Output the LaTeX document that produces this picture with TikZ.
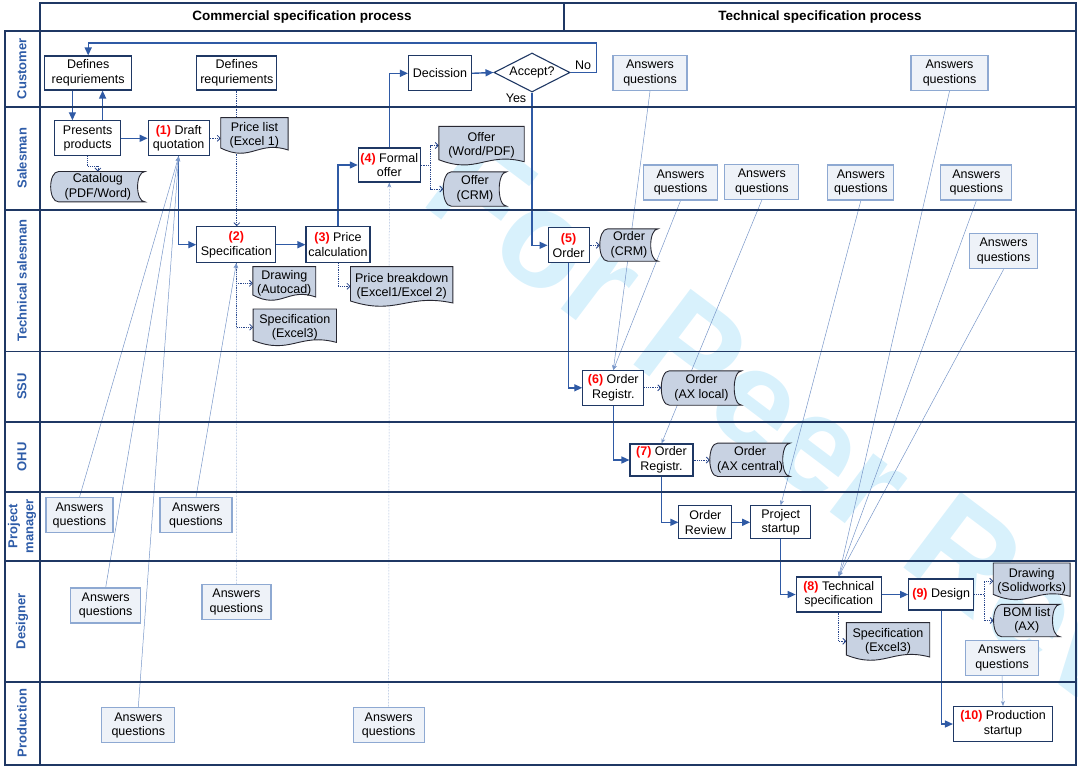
\documentclass[tikz,border=0pt]{standalone}
\usepackage{fontspec}
\setmainfont{Liberation Sans}
\usetikzlibrary{arrows.meta,shapes.geometric}
\definecolor{laneline}{RGB}{31,56,100}
\definecolor{lanetext}{RGB}{46,92,168}
\definecolor{flowblue}{RGB}{47,90,165}
\definecolor{boxline}{RGB}{31,56,100}
\definecolor{docfill}{RGB}{200,210,226}
\definecolor{docline}{RGB}{40,40,50}
\definecolor{aqfill}{RGB}{238,242,248}
\definecolor{aqline}{RGB}{142,169,210}
\definecolor{thinblue}{RGB}{120,150,200}
\definecolor{dotblue}{RGB}{40,70,140}

\pgfdeclarelayer{wm}
\pgfdeclarelayer{lines}
\pgfdeclarelayer{shapes}
\pgfsetlayers{wm,lines,shapes,main}

\newcommand{\stepno}[1]{\textcolor{red}{\textbf{#1}}}

\newcommand{\docnode}[6]{%
  \node[doctext, minimum width=#4, minimum height=#5] (#1) at (#2,#3) {#6};
  \begin{pgfonlayer}{shapes}
    \filldraw[docshape] (#1.north west) -- (#1.north east) -- ([yshift=3pt]#1.south east)
      .. controls ([xshift={-0.45*#4},yshift=13pt]#1.south east) and ([xshift={0.45*#4},yshift=-10pt]#1.south west)
      .. ([yshift=5pt]#1.south west) -- cycle;
  \end{pgfonlayer}}

\newcommand{\storenode}[6]{%
  \node[doctext, minimum width=#4, minimum height=#5] (#1) at (#2,#3) {#6};
  \begin{pgfonlayer}{shapes}
    \filldraw[docshape] ([xshift=8pt]#1.north west) -- (#1.north east)
      .. controls ([xshift=-10pt]#1.north east) and ([xshift=-10pt]#1.south east) .. (#1.south east)
      -- ([xshift=8pt]#1.south west)
      .. controls ([xshift=-2.7pt]#1.south west) and ([xshift=-2.7pt]#1.north west) .. ([xshift=8pt]#1.north west) -- cycle;
  \end{pgfonlayer}}

\begin{document}
\begin{tikzpicture}[x=1pt, y=-1pt,
    font=\fontsize{12.5}{14.5}\selectfont,
    lane/.style={draw=laneline, line width=1.8pt},
    lanelabel/.style={rotate=90, text=lanetext, font=\fontsize{13}{16}\selectfont\bfseries, align=center},
    hdr/.style={font=\fontsize{13.5}{16}\selectfont\bfseries},
    proc/.style={draw=boxline, fill=white, line width=1.1pt, align=center, inner sep=1pt},
    aq/.style={draw=aqline, fill=aqfill, line width=1.3pt, align=center, inner sep=1pt, minimum height=35},
    doctext/.style={align=center, inner sep=0pt},
    docshape/.style={draw=docline, fill=docfill, line width=0.9pt},
    flow/.style={draw=flowblue, line width=1.4pt, -{Triangle[length=8pt,width=7pt]}},
    dotarr/.style={draw=dotblue, densely dotted, line width=0.8pt, -{Straight Barb[length=3pt,width=6pt]}},
    ansline/.style={draw=thinblue, line width=0.5pt, -{Stealth[length=5pt,width=4pt]}},
    wmark/.style={text=wmcyan, font=\fontsize{138}{138}\selectfont\bfseries}]

    \xdefinecolor{wmcyan}{RGB}{216,241,252}

    \useasboundingbox (0,0) rectangle (1078,768);

    \begin{pgfonlayer}{wm}
        \node[wmark, rotate=-37] (wmtext) at (877,486) {For Peer Review};
    \end{pgfonlayer}

    \draw[lane] (39.7,3.3) rectangle (1076,30.7);
    \draw[lane] (564,3.3) -- (564,30.7);
    \draw[lane] (5,30.7) rectangle (1076,765);
    \draw[lane] (39.7,30.7) -- (39.7,765);
    \draw[lane] (5,106.7) -- (1076,106.7);
    \draw[lane] (5,210) -- (1076,210);
    \draw[lane] (5,351.5) -- (1076,351.5);
    \draw[lane] (5,421.7) -- (1076,421.7);
    \draw[lane] (5,491.7) -- (1076,491.7);
    \draw[lane] (5,560.7) -- (1076,560.7);
    \draw[lane] (5,681.7) -- (1076,681.7);

    \node[hdr] (hcom) at (302,17) {Commercial specification process};
    \node[hdr] (htec) at (820,17) {Technical specification process};

    \node[lanelabel] (lcust) at (22,68.7) {Customer};
    \node[lanelabel] (lsales) at (22,158.3) {Salesman};
    \node[lanelabel] (ltech) at (22,280.7) {Technical salesman};
    \node[lanelabel] (lssu) at (22,386.6) {SSU};
    \node[lanelabel] (lohu) at (22,456.7) {OHU};
    \node[lanelabel] (lpm) at (22,526.2) {Project\\manager};
    \node[lanelabel] (ldes) at (22,621.2) {Designer};
    \node[lanelabel] (lprod) at (22,723.3) {Production};

    \node[proc, minimum width=87, minimum height=34] (defA) at (88.2,73) {Defines\\requriements};
    \node[proc, minimum width=80, minimum height=34] (defB) at (236.8,73) {Defines\\requriements};
    \node[proc, minimum width=63, minimum height=35] (decis) at (440,73.3) {Decission};
    \node[proc, shape=diamond, aspect=2, inner sep=0pt, minimum width=76, minimum height=39] (acc) at (532,72.5) {Accept?};
    \node (nolbl) at (583,65) {No};
    \node (yeslbl) at (516,98) {Yes};
    \node[aq, minimum width=74] (aqC1) at (650,73) {Answers\\questions};
    \node[aq, minimum width=77] (aqC2) at (949.5,73) {Answers\\questions};

    \node[proc, minimum width=66, minimum height=35] (pres) at (87.6,138.3) {Presents\\products};
    \node[proc, minimum width=61, minimum height=35] (draft) at (178.7,138.3) {\stepno{(1)} Draft\\quotation};
    \docnode{plist}{254.4}{135.3}{67}{35}{Price list\\(Excel 1)}
    \storenode{catalog}{97.9}{186.7}{94}{30}{Cataloug\\(PDF/Word)}
    \node[proc, minimum width=62, minimum height=34] (formal) at (389.3,165) {\stepno{(4)} Formal\\offer};
    \docnode{offerwp}{481.5}{145.5}{85}{38}{Offer\\(Word/PDF)}
    \storenode{offercrm}{475}{189}{63}{34}{Offer\\(CRM)}
    \node[aq, minimum width=74] (aqS1) at (680.5,182.6) {Answers\\questions};
    \node[aq, minimum width=74] (aqS2) at (761.8,182) {Answers\\questions};
    \node[aq, minimum width=66] (aqS3) at (860.8,182.6) {Answers\\questions};
    \node[aq, minimum width=71] (aqS4) at (976.3,182.6) {Answers\\questions};

    \node[proc, minimum width=79, minimum height=36] (spec) at (236.3,244.7) {\stepno{(2)}\\Specification};
    \node[proc, minimum width=64, minimum height=36] (price) at (338,244.7) {\stepno{(3)} Price\\calculation};
    \docnode{drawac}{284.3}{283.3}{62.5}{33}{Drawing\\(Autocad)}
    \docnode{specx3}{294.8}{327.2}{83}{36}{Specification\\(Excel3)}
    \docnode{pbreak}{401.7}{286.3}{102}{39}{Price breakdown\\(Excel1/Excel 2)}
    \node[proc, minimum width=41, minimum height=35] (order5) at (568.6,245.3) {\stepno{(5)}\\Order};
    \storenode{ordercrm}{629}{245}{58}{32}{Order\\(CRM)}
    \node[aq, minimum width=68] (aqT1) at (1003.6,251.2) {Answers\\questions};

    \node[proc, minimum width=61, minimum height=34.5] (reg6) at (613.3,387.8) {\stepno{(6)} Order\\Registr.};
    \storenode{axlocal}{701.5}{388}{80}{34}{Order\\(AX local)}

    \node[proc, minimum width=63, minimum height=32] (reg7) at (661.5,460) {\stepno{(7)} Order\\Registr.};
    \storenode{axcentral}{750}{459.8}{80}{33}{Order\\(AX central)}

    \node[proc, minimum width=53, minimum height=33] (review) at (705.4,522.3) {Order\\Review};
    \node[proc, minimum width=60, minimum height=33] (startup) at (780.7,522.3) {Project\\startup};
    \node[aq, minimum width=67] (aqP1) at (79.5,515.3) {Answers\\questions};
    \node[aq, minimum width=72] (aqP2) at (196,515.3) {Answers\\questions};

    \node[proc, minimum width=85, minimum height=35] (tspec8) at (838.7,594.5) {\stepno{(8)} Technical\\specification};
    \node[proc, minimum width=65, minimum height=31] (design9) at (941.2,594.5) {\stepno{(9)} Design};
    \docnode{drawsw}{1031.7}{581.2}{76.5}{36}{Drawing\\(Solidworks)}
    \storenode{bom}{1026.8}{620.5}{66}{32}{BOM list\\(AX)}
    \docnode{specx3b}{888}{641.3}{83}{37}{Specification\\(Excel3)}
    \node[aq, minimum width=70] (aqD1) at (105.7,605.5) {Answers\\questions};
    \node[aq, minimum width=69] (aqD2) at (236.4,602) {Answers\\questions};
    \node[aq, minimum width=73] (aqD3) at (1002,658) {Answers\\questions};

    \node[proc, minimum width=99, minimum height=35] (prod10) at (1003,724) {\stepno{(10)} Production\\startup};
    \node[aq, minimum width=73] (aqR1) at (138.3,725.3) {Answers\\questions};
    \node[aq, minimum width=71] (aqR2) at (388.7,725.3) {Answers\\questions};

    \coordinate (dnA) at ([xshift=-15.8pt]defA.south);
    \coordinate (upA) at ([xshift=15pt]pres.north);
    \coordinate (noC) at (596.5,43);
    \coordinate (fo) at ([xshift=10pt]formal.east);
    \coordinate (dg) at ([xshift=10pt]design9.east);

    \begin{pgfonlayer}{lines}
        \draw[flow] (dnA) -- (dnA |- pres.north);
        \draw[flow] (upA) -- (upA |- defA.south);
        \draw[flow] (pres.east) -- (draft.west);
        \draw[flow] (draft.south) |- (spec.west);
        \draw[flow] (spec.east) -- (price.west);
        \draw[flow] (price.north) |- (formal.west);
        \draw[flow] (formal.north) |- (decis.west);
        \draw[flow] (decis.east) -- (acc.west);
        \draw[flow] (acc.east) -| (noC) -| (defA.north);
        \draw[flow] (acc.south) |- (order5.west);
        \draw[flow] (order5.south) |- (reg6.west);
        \draw[flow] (reg6.south) |- (reg7.west);
        \draw[flow] (reg7.south) |- (review.west);
        \draw[flow] (review.east) -- (startup.west);
        \draw[flow] (startup.south) |- (tspec8.west);
        \draw[flow] (tspec8.east) -- (design9.west);
        \draw[flow] (design9.south) |- (prod10.west);

        \draw[dotarr] (pres.south) -- ++(0,10) -| (catalog.north);
        \draw[dotarr] (draft.east) -- (draft.east -| plist.west);
        \draw[dotarr] (defB.south) -- (defB.south |- spec.north);
        \draw[dotarr] (spec.south) |- (drawac.west);
        \draw[dotarr] (spec.south) |- (specx3.west);
        \draw[dotarr] (price.south) |- (pbreak.west);
        \draw[dotarr] (formal.east) -- (fo) |- (offerwp.west);
        \draw[dotarr] (fo) |- (offercrm.west);
        \draw[dotarr] (order5.east) -- (order5.east -| ordercrm.west);
        \draw[dotarr] (reg6.east) -- (reg6.east -| axlocal.west);
        \draw[dotarr] (reg7.east) -- (reg7.east -| axcentral.west);
        \draw[dotarr] (tspec8.south) |- (specx3b.west);
        \draw[dotarr] (design9.east) -- (dg) |- (drawsw.west);
        \draw[dotarr] (dg) |- (bom.west);

        \draw[ansline] (aqP1.north) -- (draft.south);
        \draw[ansline] (aqD1.north) -- (draft.south);
        \draw[ansline] (aqR1.north) -- (draft.south);
        \draw[ansline] (aqP2.north) -- (spec.south);
        \draw[ansline, densely dotted] (aqD2.north) -- (spec.south);
        \draw[ansline, densely dotted] (aqR2.north) -- (formal.south);
        \draw[ansline] (aqC1.south) -- (reg6.north);
        \draw[ansline] (aqS1.south) -- (reg6.north);
        \draw[ansline] (aqS2.south) -- (reg7.north);
        \draw[ansline] (aqS3.south) -- (startup.north);
        \draw[ansline] (aqC2.south) -- (tspec8.north);
        \draw[ansline] (aqS4.south) -- (tspec8.north);
        \draw[ansline] (aqT1.south) -- (tspec8.north);
        \draw[ansline] (aqD3.south) -- (prod10.north);
    \end{pgfonlayer}

\end{tikzpicture}
\end{document}
